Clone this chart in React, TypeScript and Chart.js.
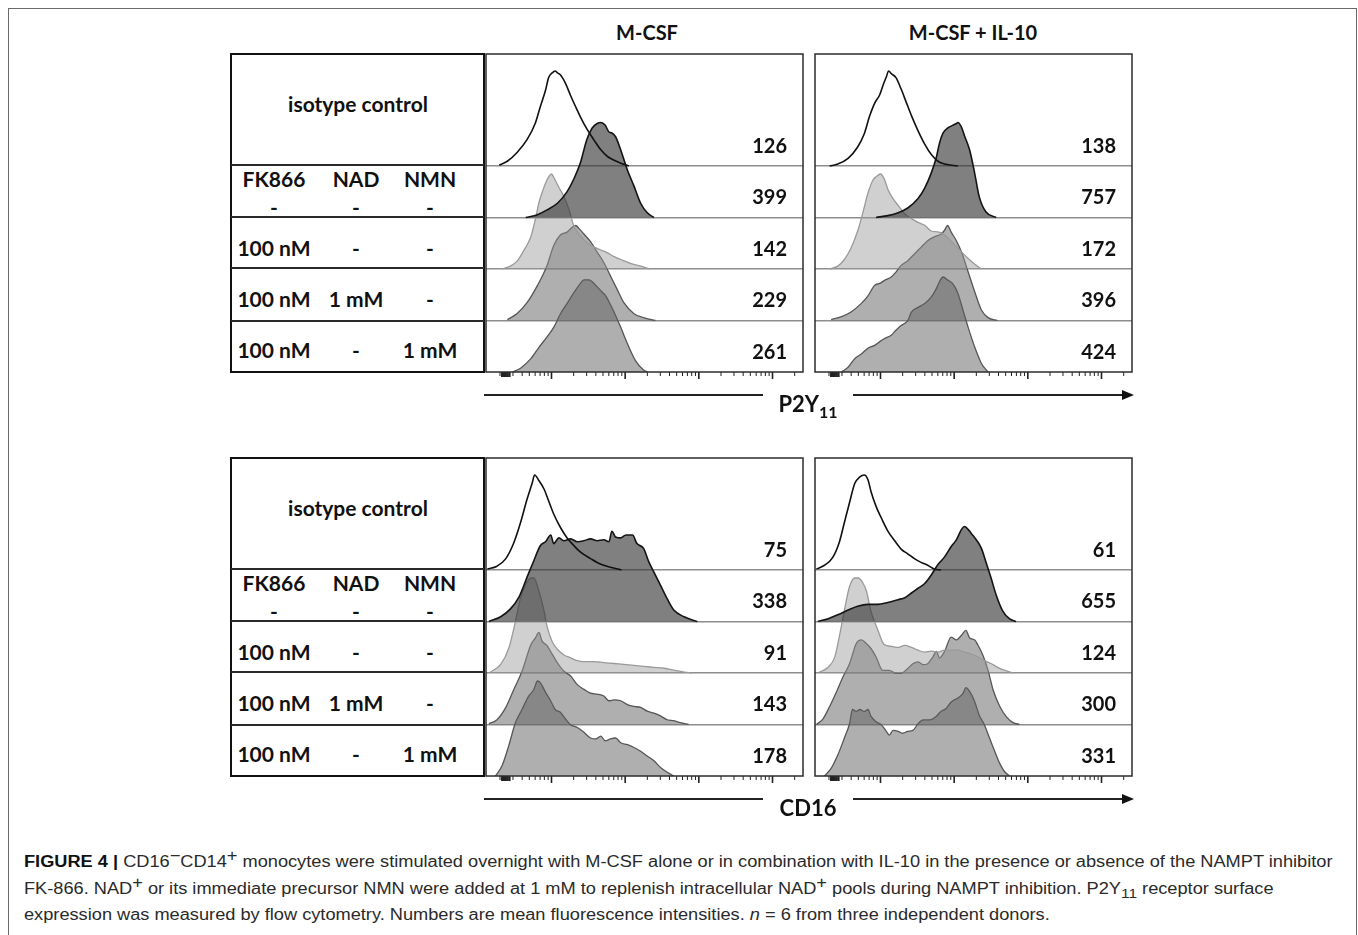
import React, { useEffect, useLayoutEffect, useRef, useState } from "react";
import { Chart, registerables } from "chart.js";
Chart.register(...registerables);

// ---------------- data ----------------
const STIMULI = ["M-CSF", "M-CSF + IL-10"];
const CONDITION_HEADERS = ["FK866", "NAD", "NMN"];
const CONDITION_ROWS = [
  ["-", "-", "-"],
  ["100 nM", "-", "-"],
  ["100 nM", "1 mM", "-"],
  ["100 nM", "-", "1 mM"],
];
const ISOTYPE_LABEL = "isotype control";

// mean fluorescence intensities (row order: isotype, untreated, FK866, FK866+NAD, FK866+NMN)
const MFI_P2Y_MCSF = [126, 399, 142, 229, 261];
const MFI_P2Y_IL10 = [138, 757, 172, 396, 424];
const MFI_CD16_MCSF = [75, 338, 91, 143, 178];
const MFI_CD16_IL10 = [61, 655, 124, 300, 331];

// histograms: X = log10 fluorescence (decades), H = % of mode
const P2Y_MCSF_ISO_X = [1.29, 1.40, 1.53, 1.67, 1.78, 1.85, 1.92, 1.96, 2.01, 2.05, 2.08, 2.12, 2.19, 2.26, 2.33, 2.39, 2.48, 2.58, 2.67, 2.76, 2.85, 2.94, 3.05];
const P2Y_MCSF_ISO_H = [1, 5, 14, 28, 45, 63, 80, 93, 98, 100, 98, 96, 87, 74, 62, 52, 39, 27, 17, 10, 6, 3, 0];
const P2Y_MCSF_CTRL_X = [1.65, 1.81, 1.94, 2.08, 2.21, 2.30, 2.39, 2.48, 2.55, 2.62, 2.67, 2.73, 2.78, 2.82, 2.87, 2.94, 3.03, 3.12, 3.21, 3.30, 3.39];
const P2Y_MCSF_CTRL_H = [0, 3, 8, 15, 27, 40, 57, 82, 94, 99, 100, 97, 90, 89, 85, 71, 50, 33, 15, 5, 0];
const P2Y_MCSF_FK_X = [1.33, 1.44, 1.53, 1.62, 1.72, 1.78, 1.83, 1.87, 1.94, 2.00, 2.04, 2.10, 2.17, 2.24, 2.30, 2.39, 2.48, 2.58, 2.67, 2.76, 2.85, 2.94, 3.07, 3.21, 3.34];
const P2Y_MCSF_FK_H = [0, 3, 8, 19, 34, 52, 70, 80, 94, 100, 95, 86, 76, 62, 46, 35, 28, 23, 20, 17, 13, 10, 6, 3, 0];
const P2Y_MCSF_NAD_X = [1.40, 1.53, 1.67, 1.81, 1.94, 2.03, 2.12, 2.21, 2.28, 2.33, 2.37, 2.44, 2.53, 2.62, 2.71, 2.80, 2.89, 2.98, 3.12, 3.25, 3.41];
const P2Y_MCSF_NAD_H = [1, 7, 19, 37, 58, 79, 90, 93, 98, 100, 97, 91, 83, 72, 61, 47, 33, 19, 7, 3, 0];
const P2Y_MCSF_NMN_X = [1.47, 1.58, 1.72, 1.83, 1.94, 2.03, 2.12, 2.21, 2.30, 2.39, 2.44, 2.51, 2.58, 2.64, 2.69, 2.73, 2.78, 2.85, 2.94, 3.03, 3.14, 3.25, 3.30];
const P2Y_MCSF_NMN_H = [0, 4, 14, 26, 37, 47, 61, 72, 83, 93, 97, 97, 93, 88, 84, 81, 74, 63, 47, 30, 12, 2, 0];

const P2Y_IL10_ISO_X = [1.31, 1.42, 1.56, 1.69, 1.78, 1.85, 1.92, 1.99, 2.03, 2.08, 2.11, 2.15, 2.21, 2.28, 2.35, 2.42, 2.51, 2.60, 2.69, 2.78, 2.87, 3.05];
const P2Y_IL10_ISO_H = [0, 2, 8, 20, 34, 52, 66, 75, 84, 94, 100, 97, 93, 81, 67, 53, 37, 23, 12, 5, 2, 0];
const P2Y_IL10_CTRL_X = [1.94, 2.10, 2.24, 2.37, 2.51, 2.60, 2.69, 2.76, 2.80, 2.85, 2.91, 2.98, 3.03, 3.05, 3.10, 3.14, 3.21, 3.28, 3.34, 3.43, 3.57];
const P2Y_IL10_CTRL_H = [0, 2, 5, 10, 20, 31, 47, 64, 78, 89, 94, 97, 99, 100, 95, 86, 71, 46, 22, 6, 0];
const P2Y_IL10_FK_X = [1.31, 1.42, 1.51, 1.60, 1.69, 1.76, 1.83, 1.90, 1.94, 2.00, 2.05, 2.10, 2.17, 2.24, 2.33, 2.42, 2.51, 2.60, 2.69, 2.78, 2.85, 2.91, 3.01, 3.10, 3.19, 3.28, 3.37];
const P2Y_IL10_FK_H = [0, 3, 10, 22, 40, 59, 80, 94, 97, 100, 95, 84, 74, 67, 58, 53, 49, 46, 40, 39, 37, 33, 25, 18, 11, 5, 0];
const P2Y_IL10_NAD_X = [1.33, 1.47, 1.60, 1.74, 1.83, 1.92, 1.99, 2.05, 2.15, 2.21, 2.28, 2.37, 2.46, 2.55, 2.64, 2.73, 2.82, 2.87, 2.91, 2.96, 3.03, 3.10, 3.19, 3.28, 3.37, 3.46, 3.59];
const P2Y_IL10_NAD_H = [1, 4, 9, 18, 26, 37, 39, 42, 46, 51, 58, 63, 70, 77, 84, 88, 91, 95, 100, 93, 84, 72, 51, 30, 11, 3, 0];
const P2Y_IL10_NMN_X = [1.47, 1.56, 1.65, 1.74, 1.83, 1.92, 1.99, 2.05, 2.15, 2.21, 2.28, 2.37, 2.42, 2.51, 2.60, 2.69, 2.76, 2.80, 2.85, 2.91, 2.98, 3.05, 3.12, 3.19, 3.28, 3.37, 3.46];
const P2Y_IL10_NMN_H = [0, 5, 14, 19, 25, 28, 32, 35, 39, 44, 49, 54, 63, 68, 72, 79, 88, 95, 100, 97, 93, 83, 65, 47, 26, 9, 0];

const CD16_MCSF_ISO_X = [1.13, 1.26, 1.38, 1.49, 1.58, 1.67, 1.74, 1.77, 1.83, 1.90, 1.96, 2.03, 2.12, 2.21, 2.30, 2.39, 2.53, 2.67, 2.80, 2.95];
const CD16_MCSF_ISO_H = [1, 4, 12, 29, 50, 75, 92, 100, 94, 85, 73, 59, 45, 34, 26, 19, 12, 6, 3, 0];
const CD16_MCSF_CTRL_X = [1.15, 1.31, 1.44, 1.56, 1.67, 1.76, 1.85, 1.92, 1.99, 2.03, 2.10, 2.17, 2.26, 2.35, 2.44, 2.53, 2.62, 2.71, 2.78, 2.82, 2.87, 2.94, 3.01, 3.10, 3.16, 3.25, 3.32, 3.39, 3.48, 3.57, 3.66, 3.80, 3.93, 3.98];
const CD16_MCSF_CTRL_H = [0, 5, 13, 26, 47, 64, 80, 84, 91, 82, 88, 85, 87, 84, 85, 87, 85, 86, 84, 95, 89, 88, 91, 91, 82, 77, 63, 52, 38, 24, 12, 5, 1, 0];
const CD16_MCSF_FK_X = [1.17, 1.31, 1.42, 1.51, 1.58, 1.65, 1.72, 1.76, 1.83, 1.90, 1.94, 2.01, 2.08, 2.17, 2.26, 2.35, 2.44, 2.58, 2.71, 2.85, 2.98, 3.12, 3.25, 3.39, 3.53, 3.66, 3.80, 3.91];
const CD16_MCSF_FK_H = [1, 9, 26, 54, 79, 93, 100, 100, 86, 65, 49, 33, 25, 19, 16, 13, 12, 12, 11, 10, 9, 8, 7, 6, 5, 3, 1, 0];
const CD16_MCSF_NAD_X = [1.15, 1.26, 1.38, 1.49, 1.60, 1.72, 1.78, 1.83, 1.87, 1.94, 2.01, 2.08, 2.17, 2.26, 2.35, 2.44, 2.53, 2.62, 2.71, 2.78, 2.85, 2.94, 3.03, 3.12, 3.21, 3.30, 3.39, 3.48, 3.57, 3.66, 3.75, 3.86];
const CD16_MCSF_NAD_H = [1, 5, 18, 37, 56, 84, 91, 97, 88, 83, 74, 65, 56, 51, 42, 37, 33, 32, 30, 25, 26, 25, 21, 19, 18, 14, 12, 9, 5, 4, 2, 0];
const CD16_MCSF_NMN_X = [1.24, 1.33, 1.42, 1.51, 1.60, 1.69, 1.76, 1.81, 1.85, 1.92, 1.99, 2.05, 2.12, 2.19, 2.26, 2.35, 2.44, 2.53, 2.60, 2.67, 2.73, 2.80, 2.87, 2.94, 3.03, 3.12, 3.21, 3.30, 3.39, 3.48, 3.57, 3.66];
const CD16_MCSF_NMN_H = [0, 11, 32, 56, 70, 84, 91, 100, 98, 88, 79, 70, 67, 60, 54, 51, 46, 40, 39, 42, 37, 39, 40, 35, 33, 30, 26, 21, 16, 9, 4, 0];

const CD16_IL10_ISO_X = [1.13, 1.24, 1.35, 1.44, 1.51, 1.58, 1.65, 1.72, 1.78, 1.83, 1.87, 1.94, 2.01, 2.10, 2.19, 2.28, 2.37, 2.46, 2.55, 2.64, 2.73, 2.82];
const CD16_IL10_ISO_H = [1, 5, 13, 29, 50, 71, 91, 98, 100, 95, 83, 67, 55, 41, 31, 22, 17, 12, 8, 5, 1, 0];
const CD16_IL10_CTRL_X = [1.15, 1.29, 1.42, 1.56, 1.69, 1.83, 1.96, 2.10, 2.24, 2.33, 2.42, 2.51, 2.60, 2.69, 2.78, 2.87, 2.96, 3.03, 3.10, 3.14, 3.19, 3.23, 3.30, 3.37, 3.43, 3.50, 3.57, 3.66, 3.75, 3.84];
const CD16_IL10_CTRL_H = [0, 3, 7, 12, 16, 18, 18, 20, 23, 25, 30, 35, 40, 49, 60, 68, 79, 86, 97, 100, 97, 93, 86, 77, 63, 46, 28, 11, 3, 0];
const CD16_IL10_FK_X = [1.17, 1.29, 1.38, 1.44, 1.51, 1.58, 1.65, 1.69, 1.76, 1.81, 1.87, 1.96, 2.05, 2.15, 2.24, 2.33, 2.42, 2.51, 2.60, 2.69, 2.78, 2.87, 2.96, 3.05, 3.14, 3.23, 3.32, 3.41, 3.50, 3.59, 3.68, 3.80];
const CD16_IL10_FK_H = [1, 6, 17, 38, 66, 91, 100, 100, 95, 86, 65, 46, 30, 28, 27, 29, 27, 24, 22, 23, 22, 24, 24, 24, 22, 20, 17, 13, 10, 6, 3, 0];
const CD16_IL10_NAD_X = [1.13, 1.22, 1.31, 1.40, 1.49, 1.58, 1.67, 1.74, 1.81, 1.87, 1.94, 2.03, 2.12, 2.21, 2.28, 2.37, 2.44, 2.51, 2.58, 2.64, 2.71, 2.76, 2.80, 2.87, 2.96, 3.03, 3.10, 3.16, 3.21, 3.28, 3.32, 3.39, 3.46, 3.53, 3.62, 3.71, 3.80, 3.89];
const CD16_IL10_NAD_H = [0, 6, 19, 34, 50, 64, 85, 89, 85, 80, 71, 57, 57, 54, 54, 59, 64, 66, 63, 64, 71, 77, 70, 77, 92, 89, 94, 99, 91, 89, 84, 73, 57, 36, 19, 8, 2, 0];
const CD16_IL10_NMN_X = [1.24, 1.33, 1.42, 1.51, 1.58, 1.62, 1.67, 1.72, 1.78, 1.83, 1.87, 1.94, 2.01, 2.08, 2.12, 2.17, 2.24, 2.30, 2.37, 2.44, 2.51, 2.58, 2.67, 2.76, 2.82, 2.89, 2.96, 3.05, 3.12, 3.16, 3.21, 3.28, 3.34, 3.41, 3.48, 3.55, 3.62, 3.68, 3.75];
const CD16_IL10_NMN_H = [0, 8, 22, 40, 55, 70, 68, 70, 68, 70, 63, 57, 54, 47, 43, 48, 47, 45, 47, 48, 55, 59, 59, 63, 68, 71, 78, 82, 87, 93, 89, 78, 64, 54, 40, 26, 13, 5, 0];

// axis (log decades) ticks
const X_MIN = 1.111;
const X_MAX = 5.414;
const MAJOR_TICKS = [2, 3, 4, 5];
const MINOR_DECADES = [1, 2, 3, 4, 5];
const MINOR_MULTIPLIERS = [2, 3, 4, 5, 6, 7, 8, 9];
const NEAR_ZERO_TICKS = [1.33, 1.355, 1.38, 1.405, 1.43];

// ---------------- layout & style ----------------
const PANEL_W = 317;
const PANEL_H = 318;
const ROW_PX = 51.5;
const Y_MAX = PANEL_H / ROW_PX;
const PEAK = 95 / ROW_PX;
const PANEL_LEFTS = [486, 815];
const BLOCK_TOPS = [54, 458];
const TABLE_LEFT = 231;
const TABLE_RIGHT = 484;
const COL_X = [274, 356, 430];
const FONT = "Lato, 'Open Sans', sans-serif";

const ROW_STYLES = [
  { fill: "rgba(0,0,0,0)", line: "#111111", width: 1.6 },
  { fill: "rgba(50,50,50,0.62)", line: "#141414", width: 1.6 },
  { fill: "rgba(150,150,150,0.45)", line: "#9a9a9a", width: 1.3 },
  { fill: "rgba(95,95,95,0.5)", line: "#565656", width: 1.3 },
  { fill: "rgba(95,95,95,0.5)", line: "#565656", width: 1.3 },
];

type Curve = { x: number[]; h: number[] };
const mk = (x: number[], h: number[]): Curve => ({ x, h });

const PANELS = [
  {
    block: 0, col: 0, mfi: MFI_P2Y_MCSF,
    curves: [mk(P2Y_MCSF_ISO_X, P2Y_MCSF_ISO_H), mk(P2Y_MCSF_CTRL_X, P2Y_MCSF_CTRL_H), mk(P2Y_MCSF_FK_X, P2Y_MCSF_FK_H), mk(P2Y_MCSF_NAD_X, P2Y_MCSF_NAD_H), mk(P2Y_MCSF_NMN_X, P2Y_MCSF_NMN_H)],
  },
  {
    block: 0, col: 1, mfi: MFI_P2Y_IL10,
    curves: [mk(P2Y_IL10_ISO_X, P2Y_IL10_ISO_H), mk(P2Y_IL10_CTRL_X, P2Y_IL10_CTRL_H), mk(P2Y_IL10_FK_X, P2Y_IL10_FK_H), mk(P2Y_IL10_NAD_X, P2Y_IL10_NAD_H), mk(P2Y_IL10_NMN_X, P2Y_IL10_NMN_H)],
  },
  {
    block: 1, col: 0, mfi: MFI_CD16_MCSF,
    curves: [mk(CD16_MCSF_ISO_X, CD16_MCSF_ISO_H), mk(CD16_MCSF_CTRL_X, CD16_MCSF_CTRL_H), mk(CD16_MCSF_FK_X, CD16_MCSF_FK_H), mk(CD16_MCSF_NAD_X, CD16_MCSF_NAD_H), mk(CD16_MCSF_NMN_X, CD16_MCSF_NMN_H)],
  },
  {
    block: 1, col: 1, mfi: MFI_CD16_IL10,
    curves: [mk(CD16_IL10_ISO_X, CD16_IL10_ISO_H), mk(CD16_IL10_CTRL_X, CD16_IL10_CTRL_H), mk(CD16_IL10_FK_X, CD16_IL10_FK_H), mk(CD16_IL10_NAD_X, CD16_IL10_NAD_H), mk(CD16_IL10_NMN_X, CD16_IL10_NMN_H)],
  },
];

const panelDecor = {
  id: "panelDecor",
  afterDraw(chart: any) {
    const { ctx, chartArea: ca } = chart;
    const xs = chart.scales.x;
    ctx.save();
    const drawTick = (v: number, len: number, w: number) => {
      const px = xs.getPixelForValue(v);
      if (px < ca.left + 2 || px > ca.right - 2) return;
      ctx.lineWidth = w;
      ctx.beginPath();
      ctx.moveTo(px, ca.bottom);
      ctx.lineTo(px, ca.bottom + len);
      ctx.stroke();
    };
    ctx.strokeStyle = "#222";
    MINOR_DECADES.forEach((k) => MINOR_MULTIPLIERS.forEach((m) => drawTick(k + Math.log10(m), 4, 1)));
    NEAR_ZERO_TICKS.forEach((v) => drawTick(v, 5, 2.2));
    MAJOR_TICKS.forEach((v) => drawTick(v, 7, 1.6));
    ctx.strokeStyle = "#2c2c2c";
    ctx.lineWidth = 1.5;
    ctx.strokeRect(ca.left, ca.top, ca.width, ca.height);
    ctx.restore();
  },
};

function HistPanel({ left, top, curves, mfi }: { left: number; top: number; curves: Curve[]; mfi: number[] }) {
  const ref = useRef<HTMLCanvasElement | null>(null);
  useEffect(() => {
    if (!ref.current) return;
    const chart = new Chart(ref.current, {
      type: "line",
      data: {
        datasets: curves.map((c, r) => {
          const base = 4 - r;
          const st = ROW_STYLES[r];
          return {
            data: c.x.map((x, i) => ({ x, y: base + (c.h[i] / 100) * PEAK })),
            fill: r === 0 ? false : { value: base },
            backgroundColor: st.fill,
            borderColor: st.line,
            borderWidth: st.width,
            pointRadius: 0,
            cubicInterpolationMode: "monotone",
          } as any;
        }),
      },
      options: {
        responsive: false,
        animation: false,
        devicePixelRatio: 1,
        layout: { padding: { left: 1, right: 1, top: 1, bottom: 11 } },
        plugins: { legend: { display: false }, tooltip: { enabled: false } },
        scales: {
          x: { type: "linear", min: X_MIN, max: X_MAX, display: false },
          y: {
            type: "linear",
            min: 0,
            max: Y_MAX,
            position: "left",
            z: 1,
            afterBuildTicks: (s: any) => {
              s.ticks = [1, 2, 3, 4].map((v) => ({ value: v }));
            },
            ticks: { display: false },
            grid: { drawTicks: false, color: "#8e8e8e", lineWidth: 1.4 },
            border: { display: false },
          },
        },
      } as any,
      plugins: [panelDecor],
    });
    return () => chart.destroy();
  }, [curves]);
  return (
    <>
      <canvas
        ref={ref}
        width={PANEL_W + 2}
        height={PANEL_H + 12}
        style={{ position: "absolute", left: left - 1, top: top - 1, width: PANEL_W + 2, height: PANEL_H + 12 }}
      />
      {mfi.map((v, r) => {
        const baseY = top + PANEL_H - (4 - r) * ROW_PX;
        return (
          <div
            key={r}
            style={{
              position: "absolute",
              left,
              width: PANEL_W - 16,
              top: baseY - 21 - 12.5,
              textAlign: "right",
              font: `700 20px ${FONT}`,
              lineHeight: "24px",
              color: "#111",
            }}
          >
            {v}
          </div>
        );
      })}
    </>
  );
}

function Label({ x, y, text, size = 21 }: { x: number; y: number; text: React.ReactNode; size?: number }) {
  return (
    <div
      style={{
        position: "absolute",
        left: x,
        top: y - 0.627 * size,
        transform: "translateX(-50%)",
        font: `700 ${size}px ${FONT}`,
        lineHeight: `${1.2 * size}px`,
        whiteSpace: "nowrap",
        color: "#111",
      }}
    >
      {text}
    </div>
  );
}

function ConditionTable({ top }: { top: number }) {
  const seps = [111, 163, 214, 267];
  const els: React.ReactNode[] = [];
  els.push(
    <div
      key="box"
      style={{
        position: "absolute",
        left: TABLE_LEFT - 1,
        top: top - 1,
        width: TABLE_RIGHT - TABLE_LEFT + 2,
        height: PANEL_H + 2,
        border: "2px solid #111",
        boxSizing: "border-box",
      }}
    />
  );
  seps.forEach((s, i) =>
    els.push(
      <div key={"s" + i} style={{ position: "absolute", left: TABLE_LEFT, top: top + s - 0.75, width: TABLE_RIGHT - TABLE_LEFT, height: 1.5, background: "#2a2a2a" }} />
    )
  );
  els.push(<Label key="iso" x={358} y={top + 50} text={ISOTYPE_LABEL} />);
  CONDITION_HEADERS.forEach((h, i) => els.push(<Label key={"h" + i} x={COL_X[i]} y={top + 125} text={h} />));
  CONDITION_ROWS.forEach((row, r) => {
    const ys = [top + 153, top + 194, top + 245, top + 296][r];
    row.forEach((t, c) => els.push(<Label key={`r${r}c${c}`} x={COL_X[c]} y={ys} text={t} />));
  });
  return <>{els}</>;
}

function AxisArrow({ y, label }: { y: number; label: React.ReactNode }) {
  return (
    <>
      <div style={{ position: "absolute", left: 484, top: y - 0.75, width: 279, height: 1.5, background: "#222" }} />
      <div style={{ position: "absolute", left: 853, top: y - 0.75, width: 270, height: 1.5, background: "#222" }} />
      <div
        style={{
          position: "absolute",
          left: 1122,
          top: y - 5,
          width: 0,
          height: 0,
          borderTop: "5px solid transparent",
          borderBottom: "5px solid transparent",
          borderLeft: "12px solid #111",
        }}
      />
      <div
        style={{
          position: "absolute",
          left: 808,
          top: y + 18 - 0.987 * 22,
          transform: "translateX(-50%)",
          font: `700 22px ${FONT}`,
          lineHeight: `${1.2 * 22}px`,
          whiteSpace: "nowrap",
          color: "#111",
        }}
      >
        {label}
      </div>
    </>
  );
}

const capSup: React.CSSProperties = { fontSize: "1em", position: "relative", top: "-0.38em", lineHeight: 0 };
const capSub: React.CSSProperties = { fontSize: "0.85em", position: "relative", top: "0.3em", lineHeight: 0 };

function Caption() {
  const l1 = useRef<HTMLDivElement | null>(null);
  const [scale, setScale] = useState(1);
  useLayoutEffect(() => {
    if (l1.current) {
      const w = l1.current.scrollWidth;
      if (w > 0) setScale(1309 / w);
    }
  }, []);
  const base: React.CSSProperties = {
    position: "absolute",
    left: 24,
    font: "16px 'Liberation Sans', Arial, sans-serif",
    lineHeight: "18px",
    whiteSpace: "nowrap",
    color: "#2a2a2a",
    transformOrigin: "0 50%",
    transform: `scaleX(${scale})`,
  };
  return (
    <>
      <div ref={l1} style={{ ...base, top: 853 }}>
        <b style={{ color: "#111" }}>FIGURE 4 |</b> CD16<span style={capSup}>−</span>CD14<span style={capSup}>+</span> monocytes were stimulated overnight with M-CSF alone or in combination with IL-10 in the presence or absence of the NAMPT inhibitor
      </div>
      <div style={{ ...base, top: 880 }}>
        FK-866. NAD<span style={capSup}>+</span> or its immediate precursor NMN were added at 1 mM to replenish intracellular NAD<span style={capSup}>+</span> pools during NAMPT inhibition. P2Y<span style={capSub}>11</span> receptor surface
      </div>
      <div style={{ ...base, top: 906 }}>
        expression was measured by flow cytometry. Numbers are mean fluorescence intensities. <i>n</i> = 6 from three independent donors.
      </div>
    </>
  );
}

export default function App() {
  return (
    <div style={{ position: "relative", width: 1358, height: 935, overflow: "hidden", background: "#fff" }}>
      <style>{`html,body{margin:0;padding:0;overflow:hidden;background:#fff}`}</style>
      <div
        style={{
          position: "absolute",
          left: 7.5,
          top: 7.5,
          width: 1349,
          height: 960,
          border: "1.5px solid #6a6a6a",
          boxSizing: "border-box",
        }}
      />
      {STIMULI.map((s, i) => (
        <Label key={s} x={[647, 973][i]} y={33} text={s} size={20} />
      ))}
      {BLOCK_TOPS.map((t) => (
        <ConditionTable key={t} top={t} />
      ))}
      {PANELS.map((p, i) => (
        <HistPanel key={i} left={PANEL_LEFTS[p.col]} top={BLOCK_TOPS[p.block]} curves={p.curves} mfi={p.mfi} />
      ))}
      <AxisArrow
        y={395}
        label={
          <>
            P2Y<span style={{ fontSize: 16, position: "relative", top: 6 }}>11</span>
          </>
        }
      />
      <AxisArrow y={799} label={<>CD16</>} />
      <Caption />
    </div>
  );
}
